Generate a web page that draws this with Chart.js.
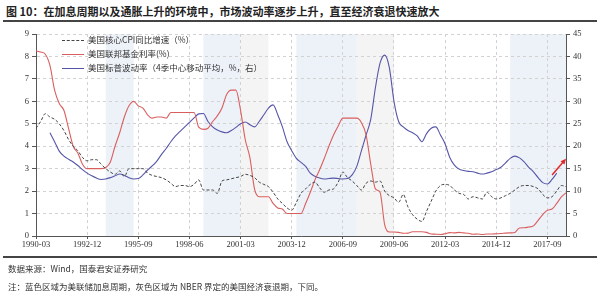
<!DOCTYPE html>
<html>
<head>
<meta charset="utf-8">
<script src="https://cdn.jsdelivr.net/npm/chart.js@4.4.1/dist/chart.umd.min.js"></script>
<style>
  body { margin:0; width:600px; height:295px; background:#fff; position:relative; overflow:hidden;
         font-family:"Noto Sans CJK SC", sans-serif; color:#222; }
  #title { position:absolute; left:6px; top:3px; font-size:11px; font-weight:bold; white-space:nowrap; }
  .rule { position:absolute; left:3px; width:594px; height:2px; background:#444; }
  #box { position:absolute; left:0; top:0; width:600px; height:295px; }
  .foot { position:absolute; left:8px; font-size:8.5px; white-space:nowrap; color:#333; }
  .leg { position:absolute; left:62px; height:12px; font-size:8.5px; white-space:nowrap; color:#333; }
  .leg i { display:inline-block; width:22px; height:0; vertical-align:middle; margin-right:4px; }
</style>
</head>
<body>
<div id="title">图 10：在加息周期以及通胀上升的环境中，市场波动率逐步上升，直至经济衰退快速放大</div>
<div class="rule" style="top:20px"></div>
<div id="box"><canvas id="c" width="600" height="295"></canvas></div>
<div class="leg" style="top:33px"><i style="border-top:1px dashed #444"></i>美国核心CPI同比增速（%）</div>
<div class="leg" style="top:47px"><i style="border-top:1px solid #d95f5f"></i>美国联邦基金利率(%)</div>
<div class="leg" style="top:61px"><i style="border-top:1px solid #5656a8"></i>美国标普波动率（4季中心移动平均，%，右）</div>
<div class="rule" style="top:256px"></div>
<div class="foot" style="top:262px">数据来源：Wind，国泰君安证券研究</div>
<div class="foot" style="top:280px">注：蓝色区域为美联储加息周期，灰色区域为 NBER 界定的美国经济衰退期，下同。</div>
<script>
// quarterly, 1990-03 .. 2018-09
var labels = [];
for (var yr = 1990; yr <= 2018; yr++) {
  ['03', '06', '09', '12'].forEach(function (m) { labels.push(yr + '-' + m); });
}
labels = labels.slice(0, 115);

var coreCpi = [
  4.8, 5.1, 5.45, 5.3, 5.2, 5.0, 4.7, 4.3, 4.0, 3.8,
  3.5, 3.35, 3.4, 3.4, 3.2, 3.0, 2.85, 2.75, 2.9, 2.65,
  3.0, 3.0, 3.0, 3.0, 2.8, 2.7, 2.65, 2.6, 2.5, 2.35,
  2.2, 2.25, 2.25, 2.2, 2.3, 2.5, 2.05, 2.05, 2.05, 1.9,
  2.45, 2.5, 2.55, 2.6, 2.65, 2.75, 2.7, 2.6, 2.4, 2.3,
  2.2, 1.95, 1.65, 1.45, 1.25, 1.15, 1.5, 1.9, 2.1, 2.3,
  2.4, 2.15, 1.95, 2.05, 2.1, 2.4, 2.85, 2.6, 2.45, 2.25,
  2.05, 2.35, 2.45, 2.4, 2.45, 2.0, 1.8, 1.7, 1.5, 1.85,
  1.3, 0.95, 0.75, 0.65, 1.1, 1.55, 2.0, 2.25, 2.3, 2.25,
  2.05, 1.9, 1.85, 1.65, 1.75, 1.7, 1.65, 1.95, 1.75, 1.65,
  1.7, 1.8, 1.9, 2.05, 2.2, 2.25, 2.25, 2.2, 2.1, 1.85,
  1.7, 1.75, 2.0, 2.25, 2.2
];

var fedFunds = [
  8.25, 8.2, 8.1, 7.6, 6.5, 5.9, 5.6, 4.8, 4.0, 3.7,
  3.2, 3.0, 3.0, 3.0, 3.0, 3.05, 3.3, 4.0, 4.6, 5.3,
  5.8, 6.0, 5.8, 5.7, 5.4, 5.25, 5.3, 5.3, 5.25, 5.5,
  5.5, 5.5, 5.5, 5.5, 5.5, 4.85, 4.75, 4.8, 5.1, 5.35,
  5.7, 6.3, 6.5, 6.5, 5.6, 4.3, 3.5, 2.1, 1.75, 1.75,
  1.75, 1.45, 1.25, 1.2, 1.0, 1.0, 1.0, 1.0, 1.45, 1.95,
  2.5, 2.95, 3.45, 4.0, 4.5, 4.9, 5.25, 5.25, 5.25, 5.25,
  5.05, 4.5, 3.2, 2.1, 1.95, 0.5, 0.18, 0.18, 0.16, 0.12,
  0.13, 0.19, 0.19, 0.19, 0.16, 0.09, 0.08, 0.07, 0.10, 0.15,
  0.14, 0.16, 0.14, 0.12, 0.08, 0.09, 0.07, 0.09, 0.09, 0.10,
  0.11, 0.13, 0.14, 0.16, 0.36, 0.37, 0.40, 0.45, 0.70, 0.95,
  1.15, 1.20, 1.45, 1.74, 1.92
];

var spxVol = [
  null, null, null, 23, 21, 18.9, 17.8, 17.1, 16.5, 15.7,
  14.8, 14, 13.4, 12.9, 12.6, 12.7, 13, 13.4, 13.8, 13.5,
  13, 12.7, 12.8, 13.6, 14.7, 15.6, 16.7, 18.2, 19.5, 21,
  22.3, 23.3, 24.3, 25.3, 26.3, 27.2, 27.3, 25.5, 24.3, 23.6,
  23.2, 23, 23.5, 24.2, 25, 25.4, 24.8, 24.3, 25.5, 27,
  28.5, 29.2, 27, 24.3, 21, 19, 17.3, 16.4, 15.5, 14,
  13.3, 12.9, 12.7, 12.8, 12.9, 12.8, 12.7, 12.8, 13.6, 15.5,
  19, 22.5, 26, 33, 38.5, 40.3, 37.5, 30, 25.5, 24.3,
  23.5, 23, 22.3, 21, 22.8, 24, 24.3, 22.5, 20.5, 17.5,
  15.8, 14.9, 14.6, 14.4, 14.3, 14.0, 13.8, 14.0, 14.3, 14.8,
  15.3, 16.3, 17.3, 17.8, 17.4, 16.5, 15.3, 14.3, 13.0, 11.9,
  11.6, 12.6, 14.0, null, null
];

// shaded periods (label range)
var hikeCycles = [['1993-12', '1995-06'], ['1999-03', '2001-03'], ['2004-03', '2007-06'], ['2015-09', '2018-09']];
var recessions = [['2001-03', '2002-09'], ['2007-06', '2009-06']];
var arrowFrom = ['2017-12', 13.6];
var arrowTo = ['2018-09', 17.2];

var shading = {
  id: 'shading',
  beforeDraw: function (chart) {
    var ctx = chart.ctx, x = chart.scales.x, a = chart.chartArea;
    function band(list, color) {
      list.forEach(function (p) {
        var x0 = x.getPixelForValue(labels.indexOf(p[0]));
        var x1 = x.getPixelForValue(labels.indexOf(p[1]));
        ctx.fillStyle = color;
        ctx.fillRect(x0, a.top, x1 - x0, a.bottom - a.top);
      });
    }
    ctx.save();
    band(hikeCycles, '#edf1f8');
    band(recessions, '#f4f4f4');
    ctx.restore();
  }
};

var arrow = {
  id: 'arrow',
  afterDatasetsDraw: function (chart) {
    var ctx = chart.ctx, x = chart.scales.x, y = chart.scales.y1;
    var x0 = x.getPixelForValue(labels.indexOf(arrowFrom[0])), y0 = y.getPixelForValue(arrowFrom[1]);
    var x1 = x.getPixelForValue(labels.indexOf(arrowTo[0])), y1 = y.getPixelForValue(arrowTo[1]);
    var ang = Math.atan2(y1 - y0, x1 - x0);
    ctx.save();
    ctx.strokeStyle = '#e02828';
    ctx.fillStyle = '#e02828';
    ctx.lineWidth = 1.5;
    ctx.beginPath();
    ctx.moveTo(x0, y0);
    ctx.lineTo(x1 - 3 * Math.cos(ang), y1 - 3 * Math.sin(ang));
    ctx.stroke();
    ctx.beginPath();
    ctx.moveTo(x1, y1);
    ctx.lineTo(x1 - 6 * Math.cos(ang - 0.45), y1 - 6 * Math.sin(ang - 0.45));
    ctx.lineTo(x1 - 6 * Math.cos(ang + 0.45), y1 - 6 * Math.sin(ang + 0.45));
    ctx.closePath();
    ctx.fill();
    ctx.restore();
  }
};

var tickFont = { family: 'Liberation Serif', size: 8.5 };

new Chart(document.getElementById('c'), {
  type: 'line',
  data: {
    labels: labels,
    datasets: [
      { label: '美国核心CPI同比增速（%）', data: coreCpi, yAxisID: 'y',
        borderColor: '#444', borderWidth: 1, borderDash: [3, 2] },
      { label: '美国联邦基金利率(%)', data: fedFunds, yAxisID: 'y',
        borderColor: '#d95f5f', borderWidth: 1.1 },
      { label: '美国标普波动率（4季中心移动平均，%，右）', data: spxVol, yAxisID: 'y1',
        borderColor: '#5656a8', borderWidth: 1.1 }
    ]
  },
  options: {
    responsive: false,
    animation: false,
    layout: { padding: { top: 34, bottom: 39, left: 0, right: 0 } },
    elements: { point: { radius: 0 }, line: { cubicInterpolationMode: 'monotone' } },
    plugins: { legend: { display: false }, tooltip: { enabled: false } },
    scales: {
      x: {
        afterFit: function (s) { s.height = 20; },
        grid: { color: '#d2d2d2', tickLength: 3, tickColor: '#555', drawTicks: true },
        border: { color: '#555', dash: [3, 3] },
        ticks: {
          autoSkip: false, maxRotation: 0, color: '#333', font: tickFont, padding: 1,
          callback: function (v, i) { return i % 11 === 0 ? labels[i] : null; }
        }
      },
      y: {
        position: 'left', min: 0, max: 9,
        afterFit: function (s) { s.width = 36; },
        grid: { color: '#d2d2d2', tickLength: 4, tickColor: '#555' },
        border: { color: '#555', dash: [3, 3] },
        ticks: { stepSize: 1, color: '#333', font: tickFont, padding: 3 }
      },
      y1: {
        position: 'right', min: 0, max: 45,
        afterFit: function (s) { s.width = 34; },
        grid: { drawOnChartArea: false, tickLength: 4, tickColor: '#555' },
        border: { color: '#555' },
        ticks: { stepSize: 5, color: '#333', font: tickFont, padding: 3 }
      }
    }
  },
  plugins: [shading, arrow]
});
</script>
</body>
</html>
